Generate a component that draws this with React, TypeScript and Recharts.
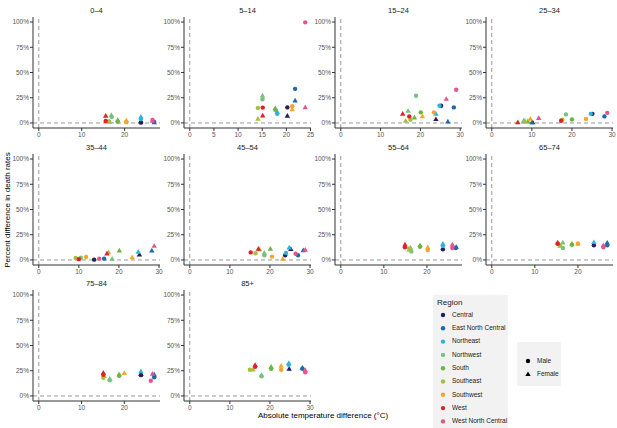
import React from 'react';
import { ScatterChart, Scatter, XAxis, YAxis, ReferenceLine } from 'recharts';

const regions = [
  'Central',
  'East North Central',
  'Northeast',
  'Northwest',
  'South',
  'Southeast',
  'Southwest',
  'West',
  'West North Central',
];
const regionColors = ['#23205c', '#1d6aaa', '#2db4d8', '#76c381', '#6cb444', '#a7c03b', '#f5a52b', '#e2202a', '#e4558b'];
const sexes = ['Male', 'Female'];
const yTicks = [0, 25, 50, 75, 100];

// [region, sex, temperature difference, percent difference]
type Pt = [string, string, number, number];

const age0to4: Pt[] = [
  ['West', 'Male', 15.6, 2.0], ['West', 'Female', 15.6, 6.9],
  ['Southeast', 'Male', 16.4, 1.5], ['Southeast', 'Female', 16.5, 1.0],
  ['Northwest', 'Male', 17.0, 6.0], ['Northwest', 'Female', 16.9, 7.8],
  ['South', 'Male', 18.4, 1.2], ['South', 'Female', 18.4, 2.8],
  ['Southwest', 'Male', 20.4, 0.8], ['Southwest', 'Female', 20.4, 2.4],
  ['Northeast', 'Male', 23.8, 3.8], ['Northeast', 'Female', 23.8, 6.0],
  ['Central', 'Male', 23.8, 0.3], ['Central', 'Female', 23.8, 1.5],
  ['West North Central', 'Male', 26.5, 3.0], ['West North Central', 'Female', 26.5, 2.0],
  ['East North Central', 'Male', 26.9, 1.0], ['East North Central', 'Female', 26.9, 0.4],
];

const age5to14: Pt[] = [
  ['Southeast', 'Male', 14.1, 14.8], ['Southeast', 'Female', 14.1, 4.0],
  ['Northwest', 'Male', 15.05, 23.5], ['Northwest', 'Female', 15.05, 27.0],
  ['West', 'Male', 15.1, 15.2], ['West', 'Female', 15.1, 7.2],
  ['South', 'Male', 17.7, 13.0], ['South', 'Female', 17.7, 14.5],
  ['Northeast', 'Male', 18.1, 9.0], ['Northeast', 'Female', 18.1, 11.0],
  ['Central', 'Male', 20.2, 15.4], ['Central', 'Female', 20.2, 6.9],
  ['Southwest', 'Male', 21.2, 16.5], ['Southwest', 'Female', 21.2, 13.5],
  ['East North Central', 'Male', 21.8, 33.8], ['East North Central', 'Female', 21.8, 22.0],
  ['West North Central', 'Male', 23.9, 99.7], ['West North Central', 'Female', 23.9, 15.4],
];

const age15to24: Pt[] = [
  ['West', 'Female', 15.55, 8.9], ['West', 'Male', 17.2, 6.5],
  ['Northwest', 'Female', 16.9, 11.8], ['Northwest', 'Male', 18.9, 27.0],
  ['Southeast', 'Female', 16.3, 2.0], ['Southeast', 'Male', 17.5, 3.2],
  ['South', 'Female', 18.5, 5.2], ['South', 'Male', 20.1, 10.5],
  ['Southwest', 'Female', 20.5, 6.5], ['Southwest', 'Male', 23.4, 10.5],
  ['Northeast', 'Female', 23.9, 8.9], ['Northeast', 'Male', 24.8, 17.0],
  ['Central', 'Female', 23.9, 3.6], ['Central', 'Male', 25.2, 17.0],
  ['West North Central', 'Female', 26.5, 23.7], ['West North Central', 'Male', 29.0, 32.9],
  ['East North Central', 'Female', 26.9, 1.3], ['East North Central', 'Male', 28.4, 15.4],
];

const age25to34: Pt[] = [
  ['West', 'Female', 6.5, 0.5], ['Northwest', 'Female', 8.0, 2.6],
  ['Northeast', 'Female', 8.2, 1.8], ['Southeast', 'Female', 8.3, 1.0],
  ['South', 'Female', 9.0, 1.5], ['Southwest', 'Female', 9.6, 4.0],
  ['East North Central', 'Female', 10.0, 0.4], ['Central', 'Female', 10.2, 0.6],
  ['West North Central', 'Female', 11.7, 4.8],
  ['West', 'Male', 17.3, 2.2], ['Southeast', 'Male', 17.6, 3.2],
  ['Northwest', 'Male', 18.5, 8.5], ['South', 'Male', 20.0, 3.4],
  ['Southwest', 'Male', 23.5, 4.0], ['Northeast', 'Male', 24.7, 9.0],
  ['Central', 'Male', 25.1, 9.0], ['East North Central', 'Male', 28.1, 6.5],
  ['West North Central', 'Male', 28.8, 10.0],
];

const age35to44: Pt[] = [
  ['Southeast', 'Male', 9.2, 2.0], ['West', 'Male', 10.0, 0.8],
  ['Northwest', 'Male', 10.5, 2.3], ['Southwest', 'Male', 11.8, 3.0],
  ['Central', 'Male', 13.8, 0.3], ['West North Central', 'Male', 15.1, 1.3],
  ['East North Central', 'Male', 16.3, 1.3],
  ['West', 'Female', 17.0, 6.2], ['Southeast', 'Female', 17.4, 7.5],
  ['Northwest', 'Female', 18.3, 1.0], ['South', 'Female', 20.1, 9.2],
  ['Southwest', 'Female', 23.3, 2.6], ['Northeast', 'Female', 24.8, 7.9],
  ['Central', 'Female', 25.1, 5.2], ['East North Central', 'Female', 28.2, 9.2],
  ['West North Central', 'Female', 28.8, 13.8],
];

const age45to54: Pt[] = [
  ['West', 'Male', 15.2, 7.5], ['Southeast', 'Male', 16.4, 6.6],
  ['Northwest', 'Male', 18.6, 4.6], ['Southwest', 'Male', 20.5, 3.3],
  ['Central', 'Male', 23.8, 4.6], ['Northeast', 'Male', 24.0, 7.0],
  ['West North Central', 'Male', 26.4, 6.2], ['East North Central', 'Male', 27.0, 4.6],
  ['West', 'Female', 17.1, 11.0], ['Southeast', 'Female', 17.4, 10.5],
  ['Northwest', 'Female', 18.6, 6.9], ['South', 'Female', 20.1, 11.0],
  ['Southwest', 'Female', 23.2, 1.0], ['Northeast', 'Female', 24.8, 12.2],
  ['Central', 'Female', 25.2, 10.6], ['East North Central', 'Female', 28.3, 9.5],
  ['West North Central', 'Female', 28.8, 9.9],
];

const age55to64: Pt[] = [
  ['West', 'Male', 14.9, 12.5], ['West', 'Female', 14.9, 15.1],
  ['Southeast', 'Male', 15.9, 11.5], ['Southeast', 'Female', 15.9, 10.0],
  ['Northwest', 'Male', 16.4, 8.5], ['Northwest', 'Female', 16.2, 12.0],
  ['South', 'Male', 18.4, 13.0], ['South', 'Female', 18.4, 14.5],
  ['Southwest', 'Male', 20.2, 9.9], ['Southwest', 'Female', 20.2, 12.5],
  ['Northeast', 'Male', 23.7, 14.0], ['Northeast', 'Female', 23.7, 15.8],
  ['Central', 'Male', 23.7, 10.5],
  ['West North Central', 'Male', 25.9, 11.9], ['West North Central', 'Female', 25.9, 15.1],
  ['East North Central', 'Male', 26.7, 11.9], ['East North Central', 'Female', 26.8, 12.8],
];

const age65to74: Pt[] = [
  ['West', 'Male', 15.3, 16.0], ['West', 'Female', 15.3, 17.1],
  ['Southeast', 'Male', 15.8, 14.5], ['Southeast', 'Female', 15.8, 14.0],
  ['Northwest', 'Male', 16.5, 11.9], ['Northwest', 'Female', 16.5, 17.1],
  ['South', 'Male', 18.6, 15.0], ['South', 'Female', 18.6, 16.0],
  ['Southwest', 'Male', 20.0, 16.0], ['Southwest', 'Female', 20.0, 16.2],
  ['Northeast', 'Female', 23.7, 17.5], ['Central', 'Male', 23.7, 14.5],
  ['West North Central', 'Male', 25.9, 12.5], ['West North Central', 'Female', 25.9, 14.5],
  ['East North Central', 'Male', 26.8, 14.5], ['East North Central', 'Female', 26.8, 17.0],
];

const age75to84: Pt[] = [
  ['West', 'Male', 15.1, 20.9], ['West', 'Female', 15.1, 22.9],
  ['Southeast', 'Male', 15.1, 18.0], ['Southeast', 'Female', 15.3, 19.5],
  ['Northwest', 'Male', 16.6, 15.5], ['Northwest', 'Female', 16.6, 17.0],
  ['South', 'Male', 18.8, 20.0], ['South', 'Female', 18.8, 21.0],
  ['Southwest', 'Female', 20.0, 22.6], ['Northeast', 'Female', 23.9, 24.3],
  ['Central', 'Male', 23.9, 20.6], ['Central', 'Female', 23.9, 21.5],
  ['West North Central', 'Male', 26.2, 15.0], ['West North Central', 'Female', 26.6, 21.9],
  ['East North Central', 'Male', 27.0, 18.6], ['East North Central', 'Female', 27.0, 21.0],
];

const age85plus: Pt[] = [
  ['Southeast', 'Male', 15.0, 26.0], ['Southeast', 'Female', 15.8, 26.0],
  ['West', 'Male', 16.3, 29.0], ['West', 'Female', 16.3, 30.5],
  ['Northwest', 'Male', 17.9, 19.5], ['Northwest', 'Female', 17.9, 20.5],
  ['South', 'Male', 20.3, 27.0], ['South', 'Female', 20.3, 28.8],
  ['Southwest', 'Male', 22.8, 26.0], ['Southwest', 'Female', 22.8, 29.8],
  ['Northeast', 'Male', 24.7, 31.0], ['Northeast', 'Female', 24.7, 32.5],
  ['Central', 'Female', 24.8, 26.8],
  ['East North Central', 'Male', 28.1, 27.0], ['East North Central', 'Female', 28.1, 27.8],
  ['West North Central', 'Male', 28.8, 23.5], ['West North Central', 'Female', 28.8, 25.5],
];

const ageGroups = ['0–4', '5–14', '15–24', '25–34', '35–44', '45–54', '55–64', '65–74', '75–84', '85+'];
const agePoints = [age0to4, age5to14, age15to24, age25to34, age35to44, age45to54, age55to64, age65to74, age75to84, age85plus];
const ticks10 = [0, 10, 20];
const ticks10to30 = [0, 10, 20, 30];
const ticks5 = [0, 5, 10, 15, 20, 25];
const ageTicks = [ticks10, ticks5, ticks10to30, ticks10to30, ticks10to30, ticks10to30, ticks10, ticks10, ticks10, ticks10to30];

const FONT = '"Liberation Sans", Arial, sans-serif';
const colLeft = [33, 184, 335, 486];
const rowTop = [17, 154, 290];
const PW = 127;
const PH = 111;
const AXIS_W = 30;
const XAXIS_H = 14;
const RIGHT_PAD = 8;

const Dot = (props: any) => <circle cx={props.cx} cy={props.cy} r={2.2} fill={props.fill} />;
const Tri = (props: any) => {
  const { cx, cy, fill } = props;
  return <path d={`M${cx},${cy - 2.9}L${cx + 2.7},${cy + 1.8}L${cx - 2.7},${cy + 1.8}Z`} fill={fill} />;
};

function Panel({ index }: { index: number }) {
  const points = agePoints[index];
  const left = colLeft[index % 4];
  const top = rowTop[Math.floor(index / 4)];
  const maxX = Math.max(...points.map((p) => p[2]));
  const pad = maxX * 0.05;
  const tickStyle = { fontSize: 6.5, fill: '#555', fontFamily: FONT };

  return (
    <div style={{ position: 'absolute', left: left - AXIS_W, top: top - 5 }}>
      <ScatterChart
        width={AXIS_W + PW + RIGHT_PAD}
        height={5 + PH + XAXIS_H}
        margin={{ top: 5, right: RIGHT_PAD, bottom: 0, left: 0 }}
      >
        <XAxis
          type="number"
          dataKey="x"
          domain={[-pad, maxX + pad]}
          ticks={ageTicks[index]}
          interval={0}
          allowDataOverflow
          height={XAXIS_H}
          tickSize={3}
          tickMargin={1}
          tick={tickStyle}
          axisLine={{ stroke: '#333', strokeWidth: 1 }}
          tickLine={{ stroke: '#333' }}
        />
        <YAxis
          type="number"
          dataKey="y"
          domain={[-5, 105]}
          ticks={yTicks}
          interval={0}
          allowDataOverflow
          width={AXIS_W}
          tickSize={3}
          tickMargin={1}
          tick={tickStyle}
          tickFormatter={(v) => `${v}%`}
          axisLine={{ stroke: '#333', strokeWidth: 1 }}
          tickLine={{ stroke: '#333' }}
        />
        <ReferenceLine x={0} stroke="#999" strokeDasharray="4 3" />
        <ReferenceLine y={0} stroke="#999" strokeDasharray="4 3" />
        {regions.flatMap((region, ri) =>
          sexes.map((sex) => {
            const data = points
              .filter((p) => p[0] === region && p[1] === sex)
              .map((p) => ({ x: p[2], y: p[3] }));
            if (!data.length) return null;
            return (
              <Scatter
                key={`${region}-${sex}`}
                data={data}
                fill={regionColors[ri]}
                shape={sex === 'Male' ? Dot : Tri}
                isAnimationActive={false}
              />
            );
          })
        )}
      </ScatterChart>
    </div>
  );
}

export default function App() {
  return (
    <div style={{ position: 'absolute', left: 0, top: 0, width: 617, height: 428, background: '#fff', fontFamily: FONT }}>
      {ageGroups.map((_, i) => (
        <Panel key={i} index={i} />
      ))}
      <svg width={617} height={428} style={{ position: 'absolute', left: 0, top: 0, pointerEvents: 'none' }}>
        {ageGroups.map((g, i) => (
          <text
            key={g}
            x={colLeft[i % 4] + PW / 2}
            y={rowTop[Math.floor(i / 4)] - 6}
            textAnchor="middle"
            dominantBaseline="middle"
            fontSize={7.5}
            fill="#1a1a1a"
            fontFamily={FONT}
          >
            {g}
          </text>
        ))}
        <text x={8} y={210} transform="rotate(-90 8 210)" textAnchor="middle" dominantBaseline="middle" fontSize={8} fontFamily={FONT}>
          Percent difference in death rates
        </text>
        <text x={323} y={416} textAnchor="middle" dominantBaseline="middle" fontSize={8} fontFamily={FONT}>
          Absolute temperature difference (°C)
        </text>

        <rect x={433} y={295} width={75} height={133} fill="#f2f2f2" />
        <text x={437} y={303} dominantBaseline="middle" fontSize={8} fill="#1a1a1a" fontFamily={FONT}>
          Region
        </text>
        {regions.map((r, i) => (
          <g key={r}>
            <circle cx={443} cy={315 + i * 13.3} r={2.2} fill={regionColors[i]} />
            <text x={452} y={315 + i * 13.3} dominantBaseline="middle" fontSize={6.5} fill="#1a1a1a" fontFamily={FONT}>
              {r}
            </text>
          </g>
        ))}

        <rect x={517} y={342} width={44} height={44} fill="#f2f2f2" />
        {sexes.map((s, i) => (
          <g key={s}>
            {s === 'Male' ? (
              <Dot cx={528} cy={361 + i * 13.3} fill="#000" />
            ) : (
              <Tri cx={528} cy={361 + i * 13.3} fill="#000" />
            )}
            <text x={537} y={361 + i * 13.3} dominantBaseline="middle" fontSize={6.5} fill="#1a1a1a" fontFamily={FONT}>
              {s}
            </text>
          </g>
        ))}
      </svg>
    </div>
  );
}
